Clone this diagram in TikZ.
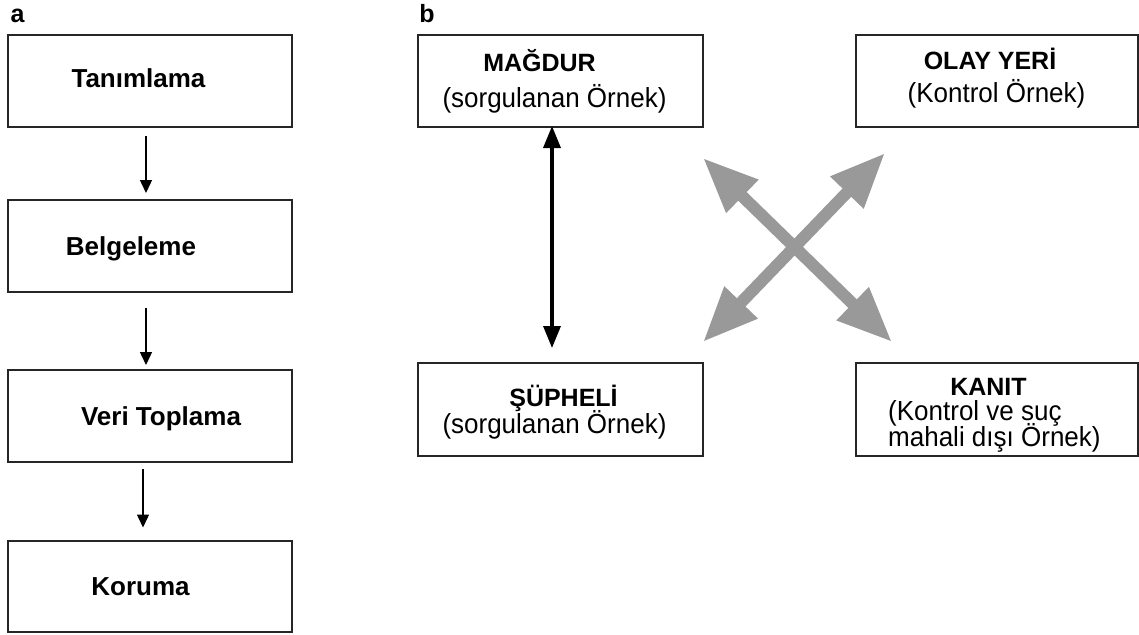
\documentclass[tikz,border=0pt]{standalone}
\usepackage{fontspec}
\setmainfont{Liberation Sans}
\usetikzlibrary{arrows.meta}
\definecolor{arrgray}{RGB}{153,153,153}
\tikzset{
  box/.style={draw=black!85, line width=2pt, fill=white, inner sep=0pt},
  lefttxt/.style={anchor=base, inner sep=0pt, font=\fontsize{26}{30}\selectfont\bfseries},
  headtxt/.style={anchor=base, inner sep=0pt, font=\fontsize{25}{29}\selectfont\bfseries},
  subtxt/.style={anchor=base, inner sep=0pt, yscale=1.06, font=\fontsize{26}{30}\selectfont},
  paneltxt/.style={anchor=base, inner sep=0pt, font=\fontsize{25}{29}\selectfont\bfseries},
  thinarr/.style={line width=1.4pt, -{Triangle[length=13pt,width=12pt]}},
  bigarr/.style={line width=3.4pt, {Triangle[length=22pt,width=17pt]}-{Triangle[length=22pt,width=17pt]}},
  grayarr/.style={draw=arrgray, line width=12pt, {Triangle[length=55pt,width=43pt,fill=arrgray]}-{Triangle[length=55pt,width=43pt,fill=arrgray]}}
}
\begin{document}
\begin{tikzpicture}[x=1pt,y=-1pt]
\useasboundingbox[fill=white] (0,0) rectangle (1139,634);
% panel labels
\node[paneltxt] (la) at (17.5,23) {a};
\node[paneltxt] (lb) at (427,23) {b};
% left flow
\node[box, minimum width=284pt, minimum height=92pt] (t1) at (150,81) {};
\node[box, minimum width=284pt, minimum height=92pt] (t2) at (150,246) {};
\node[box, minimum width=284pt, minimum height=92pt] (t3) at (150,416) {};
\node[box, minimum width=284pt, minimum height=91pt] (t4) at (150,586) {};
\node[lefttxt] (t1t) at (138.5,87) {Tanımlama};
\node[lefttxt] (t2t) at (131,255) {Belgeleme};
\node[lefttxt] (t3t) at (161,425) {Veri Toplama};
\node[lefttxt] (t4t) at (140.5,595) {Koruma};
\draw[thinarr] ([xshift=-4pt,yshift=-8pt]t1.south) -- ([xshift=-4pt,yshift=6pt]t2.north);
\draw[thinarr] ([xshift=-4pt,yshift=-15pt]t2.south) -- ([xshift=-4pt,yshift=4pt]t3.north);
\draw[thinarr] ([xshift=-7pt,yshift=-6pt]t3.south) -- ([xshift=-7pt,yshift=12pt]t4.north);
% right panel
\node[box, minimum width=285pt, minimum height=92pt] (m) at (560.5,81) {};
\node[box, minimum width=282pt, minimum height=92pt] (o) at (997,81) {};
\node[box, minimum width=285pt, minimum height=93pt] (s) at (560.5,409.5) {};
\node[box, minimum width=282pt, minimum height=93pt] (k) at (997,409.5) {};
\node[headtxt] (mh) at (539.5,71) {MAĞDUR};
\node[subtxt] (ms) at (554.5,107) {(sorgulanan Örnek)};
\node[headtxt] (oh) at (990,70) {OLAY YERİ};
\node[subtxt] (os) at (996.5,102) {(Kontrol Örnek)};
\node[headtxt] (sh) at (563.5,406) {ŞÜPHELİ};
\node[subtxt] (ss) at (554.5,433) {(sorgulanan Örnek)};
\node[headtxt] (kh) at (988.5,395) {KANIT};
\node[subtxt, anchor=base west] (ks1) at (888,420) {(Kontrol ve suç};
\node[subtxt, anchor=base west] (ks2) at (888,446) {mahali dışı Örnek)};
\draw[bigarr] ([xshift=-8.5pt,yshift=2pt]m.south) -- ([xshift=-8.5pt,yshift=14pt]s.north);
% gray crossing arrows
\coordinate (g1a) at (703,158);
\coordinate (g1b) at (892,342);
\coordinate (g2a) at (885,153);
\coordinate (g2b) at (703,342);
\draw[grayarr] (g1a) -- (g1b);
\draw[grayarr] (g2a) -- (g2b);
\end{tikzpicture}
\end{document}
